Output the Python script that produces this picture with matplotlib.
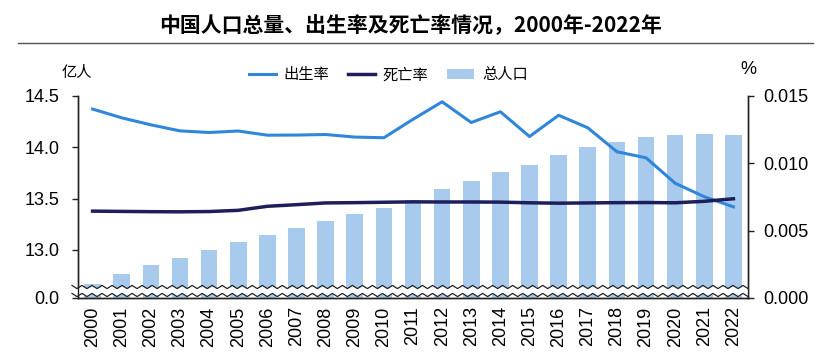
import matplotlib
matplotlib.use("Agg")
import matplotlib.pyplot as plt
import numpy as np
from matplotlib.lines import Line2D

years = [str(y) for y in range(2000, 2023)]
population = [12.67, 12.76, 12.85, 12.92, 13.00, 13.08, 13.14, 13.21, 13.28, 13.35,
              13.41, 13.49, 13.59, 13.67, 13.76, 13.83, 13.92, 14.00, 14.05, 14.10,
              14.12, 14.13, 14.12]
birth_rate = [0.01403, 0.01338, 0.01286, 0.01241, 0.01229, 0.01240, 0.01209, 0.01210,
              0.01214, 0.01195, 0.01190, 0.01327, 0.01457, 0.01303, 0.01383, 0.01199,
              0.01357, 0.01264, 0.01086, 0.01041, 0.00852, 0.00752, 0.00677]
death_rate = [0.00645, 0.00643, 0.00641, 0.00640, 0.00642, 0.00651, 0.00681, 0.00693,
              0.00706, 0.00708, 0.00711, 0.00714, 0.00713, 0.00713, 0.00712, 0.00707,
              0.00704, 0.00706, 0.00708, 0.00709, 0.00707, 0.00718, 0.00737]
left_ticks = [13.0, 13.5, 14.0, 14.5]
right_ticks = [0.000, 0.005, 0.010, 0.015]

BAR_C = "#A7CAED"
BIRTH_C = "#2F86DB"
DEATH_C = "#1E1E5A"
CJK = ["Noto Sans CJK SC", "DejaVu Sans"]
LAT = ["Liberation Sans", "DejaVu Sans"]

W, H = 836, 362
fig = plt.figure(figsize=(W / 100, H / 100), dpi=100)
ax1 = fig.add_axes([78 / W, (H - 298) / H, (748 - 78) / W, (298 - 96) / H])
ax2 = ax1.twinx()

base = 12.53
x = np.arange(len(years))
bars = ax1.bar(x, [p - base for p in population], bottom=base, width=0.57,
               color=BAR_C, zorder=2, label="总人口")
ax1.set_ylim(base, 14.5)
ax1.set_xlim(-0.5, len(years) - 0.5)
ax1.set_yticks([base] + left_ticks)
ax1.set_yticklabels(["0.0"] + [f"{t:.1f}" for t in left_ticks])
ax1.set_xticks(x)
ax1.set_xticklabels(years, rotation=90)

l1, = ax2.plot(x, birth_rate, color=BIRTH_C, lw=2.2, label="出生率", zorder=3)
l2, = ax2.plot(x, death_rate, color=DEATH_C, lw=2.5, label="死亡率", zorder=3)
ax2.set_ylim(0, 0.015)
ax2.set_yticks(right_ticks)
ax2.set_yticklabels([f"{t:.3f}" for t in right_ticks])

for a in (ax1, ax2):
    a.spines["top"].set_visible(False)
    for s in a.spines.values():
        s.set_color("#222222")
        s.set_linewidth(1.0)
    for lab in a.get_yticklabels() + a.get_xticklabels():
        lab.set_fontfamily(LAT)
        lab.set_fontsize(13)
ax1.tick_params(axis="y", direction="out", length=4.5, width=1, pad=9, colors="#222222", labelcolor="black")
ax1.tick_params(axis="x", length=0, pad=6)
ax2.tick_params(axis="y", direction="out", length=4, width=1, pad=7, colors="#222222", labelcolor="black")

# axis break marks
axh = 298 - 96
y_hi = (298 - 287) / axh
y_lo = (298 - 295) / axh
amp = 1.6 / axh
xs = np.linspace(-0.009, 1.0, 136)
zig = np.array([amp if i % 2 == 0 else -amp for i in range(len(xs))])
ax1.fill_between(xs, y_lo + zig, y_hi + zig, color="white", transform=ax1.transAxes,
                 zorder=4, clip_on=False, lw=0)
ax1.plot(xs, y_hi + zig, color="#222222", lw=0.9, transform=ax1.transAxes, clip_on=False, zorder=5)
ax1.plot(xs, y_lo + zig, color="#222222", lw=0.9, transform=ax1.transAxes, clip_on=False, zorder=5)

# axis unit labels
fig.text(77 / W, 1 - 72 / H, "亿人", ha="center", va="center", fontsize=11, family=CJK)
fig.text(748 / W, 1 - 70 / H, "%", ha="center", va="center", fontsize=13, family=LAT)

# legend
leg = ax2.legend(handles=[l1, l2, bars], loc="center", bbox_to_anchor=(0.463, 1.104),
                 ncol=3, frameon=False, prop={"family": CJK, "size": 11},
                 handlelength=1.8, handletextpad=0.5, columnspacing=1.2)

# title + rule
fig.text(411 / W, 1 - 26 / H, "中国人口总量、出生率及死亡率情况，2000年-2022年",
         ha="center", va="center", fontsize=15, fontweight="bold", family=CJK)
fig.add_artist(Line2D([18 / W, 813 / W], [1 - 43 / H, 1 - 43 / H], color="#555555", lw=1.0))

fig.savefig("out.png", dpi=100)
